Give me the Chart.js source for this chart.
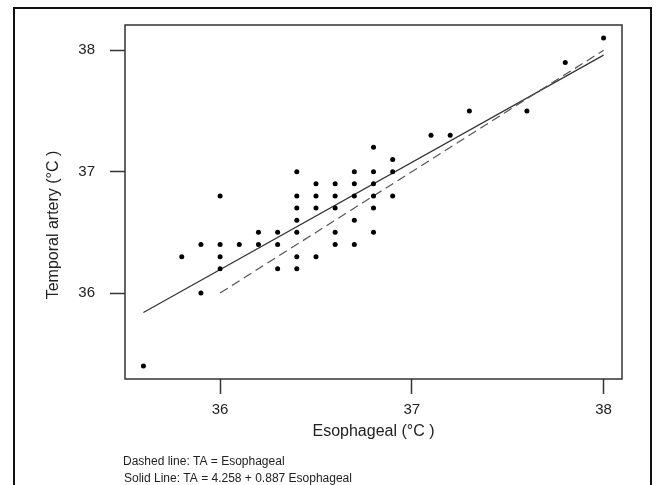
<!DOCTYPE html>
<html>
<head>
<meta charset="utf-8">
<script src="https://cdn.jsdelivr.net/npm/chart.js@4.4.1/dist/chart.umd.min.js"></script>
<style>
html,body{margin:0;padding:0;background:#fff;}
canvas{display:block;}
</style>
</head>
<body>
<canvas id="chart" width="657" height="485"></canvas>
<script>
// paired readings, one point each (Esophageal, Temporal artery)
const esophageal = [
35.6,35.8,35.9,35.9,36.0,36.0,36.0,36.0,36.1,36.2,
36.2,36.3,36.3,36.3,36.4,36.4,36.4,36.4,36.4,36.4,
36.4,36.5,36.5,36.5,36.5,36.6,36.6,36.6,36.6,36.6,
36.7,36.7,36.7,36.7,36.7,36.8,36.8,36.8,36.8,36.8,
36.8,36.9,36.9,36.9,37.1,37.2,37.3,37.6,37.8,38.0
];
const temporal = [
35.4,36.3,36.4,36.0,36.8,36.4,36.3,36.2,36.4,36.5,
36.4,36.5,36.4,36.2,37.0,36.8,36.7,36.6,36.5,36.3,
36.2,36.9,36.8,36.7,36.3,36.9,36.8,36.7,36.5,36.4,
37.0,36.9,36.8,36.6,36.4,37.2,37.0,36.9,36.8,36.7,
36.5,37.1,37.0,36.8,37.3,37.3,37.5,37.5,37.9,38.1
];

// identity line (dashed) and fitted line (solid), endpoints
const dashedX = [36.0, 38.0];
const dashedY = [36.0, 38.0];
const solidX = [35.6, 38.0];
const solidY = [35.84, 37.96];

const xTicks = [36, 37, 38];
const yTicks = [36, 37, 38];

const xTitle = "Esophageal (°C )";
const yTitle = "Temporal artery (°C )";
const notes = [
"Dashed line: TA = Esophageal",
"Solid Line: TA = 4.258 + 0.887 Esophageal"
];

const pts = (xs, ys) => xs.map((x, i) => ({x: x, y: ys[i]}));
const FONT = '"Liberation Sans", Arial, Helvetica, sans-serif';

/* frame, plot box and the texts */
const decor = {
id: "decor",
afterDraw(chart){
const ctx = chart.ctx;
const a = chart.chartArea;
ctx.save();
ctx.strokeStyle = "#333";
ctx.lineWidth = 1.5;
ctx.strokeRect(a.left, a.top, a.right - a.left, a.bottom - a.top);
ctx.strokeStyle = "#111";
ctx.lineWidth = 2;
ctx.strokeRect(14, 8, 637, 520);

ctx.fillStyle = "#222";
ctx.textAlign = "center";
ctx.textBaseline = "middle";
ctx.font = "16px " + FONT;
ctx.fillText(xTitle, (a.left + a.right) / 2, 432);

ctx.save();
ctx.translate(54, 225);
ctx.rotate(-Math.PI / 2);
ctx.fillText(yTitle, 0, 0);
ctx.restore();

ctx.textAlign = "left";
ctx.font = "12px " + FONT;
ctx.fillText(notes[0], 123, 462);
ctx.fillText(notes[1], 124, 479);
ctx.restore();
}
};

const tickStyle = {
display: true,
drawOnChartArea: false,
drawTicks: true,
tickLength: 15,
tickColor: "#333",
tickWidth: 1.5
};

new Chart(document.getElementById("chart"), {
type: "scatter",
data: {
datasets: [
{
label: "Readings",
data: pts(esophageal, temporal),
backgroundColor: "#000",
borderWidth: 0,
pointRadius: 2.5
},
{
label: "TA = Esophageal",
data: pts(dashedX, dashedY),
showLine: true,
pointRadius: 0,
borderColor: "#555",
borderWidth: 1.2,
borderDash: [9, 5]
},
{
label: "Fit",
data: pts(solidX, solidY),
showLine: true,
pointRadius: 0,
borderColor: "#333",
borderWidth: 1.2
}
]
},
options: {
responsive: false,
animation: false,
devicePixelRatio: 1,
layout: {padding: {left: 0, top: 25, right: 35, bottom: 0}},
plugins: {legend: {display: false}, tooltip: {enabled: false}},
scales: {
x: {
type: "linear",
min: 35.504,
max: 38.096,
afterBuildTicks: s => { s.ticks = xTicks.map(v => ({value: v})); },
afterFit: s => { s.height = 106; },
grid: tickStyle,
border: {display: false},
ticks: {color: "#222", padding: 7, font: {size: 15, family: FONT}, maxRotation: 0}
},
y: {
type: "linear",
min: 35.292,
max: 38.208,
afterBuildTicks: s => { s.ticks = yTicks.map(v => ({value: v})); },
afterFit: s => { s.width = 125; },
grid: tickStyle,
border: {display: false},
ticks: {color: "#222", padding: 15, font: {size: 15, family: FONT}}
}
}
},
plugins: [decor]
});
</script>
</body>
</html>
